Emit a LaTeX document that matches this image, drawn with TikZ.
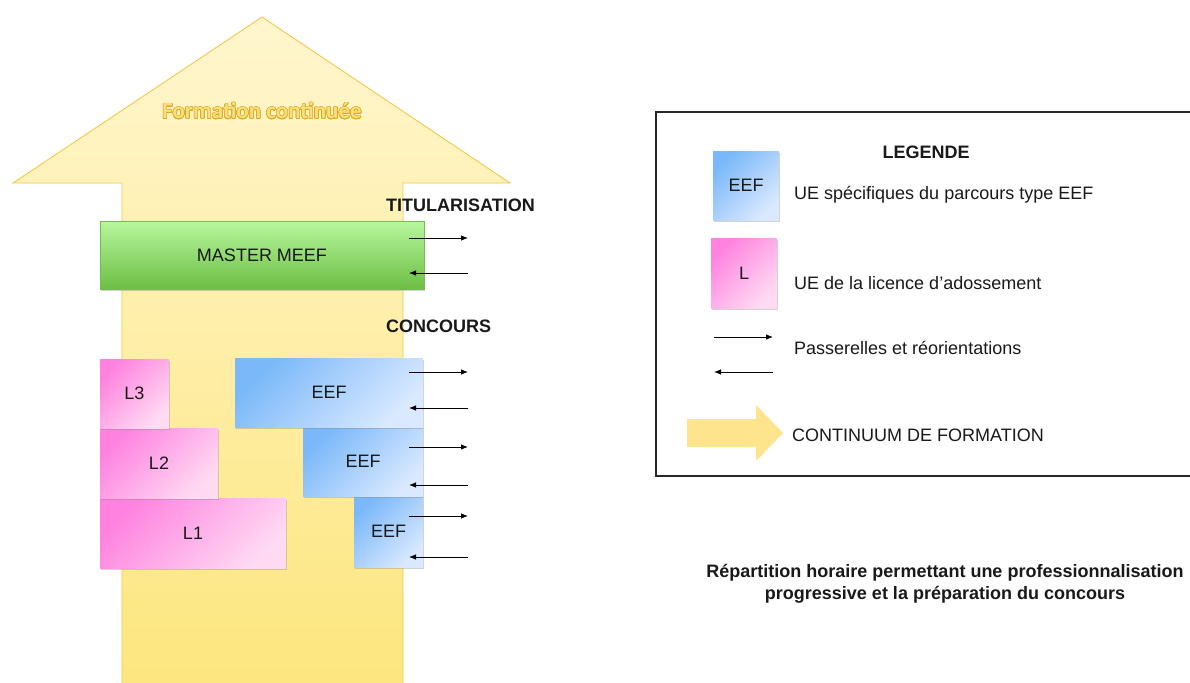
\documentclass[tikz,border=0pt]{standalone}
\usepackage{fontspec}
\setmainfont{Liberation Sans}
\newfontfamily\calfont{Carlito}
\usepackage[copies]{contour}
\usetikzlibrary{shadows,arrows.meta}
\definecolor{arrTop}{RGB}{255,246,206}
\definecolor{arrBot}{RGB}{253,230,126}
\definecolor{arrLine}{RGB}{244,200,72}
\definecolor{grnTop}{RGB}{184,247,158}
\definecolor{grnBot}{RGB}{108,190,68}
\definecolor{grnLine}{RGB}{120,186,88}
\definecolor{pinkD}{RGB}{255,130,224}
\definecolor{pinkL}{RGB}{255,218,243}
\definecolor{blueD}{RGB}{122,184,249}
\definecolor{blueL}{RGB}{218,233,255}
\definecolor{legArr}{RGB}{255,228,142}
\definecolor{goldTxt}{RGB}{250,222,120}
\definecolor{goldLine}{RGB}{220,168,40}
\contourlength{0.55pt}
\begin{document}
\begin{tikzpicture}[x=1pt,y=1pt,
  txt/.style={font=\fontsize{18}{22}\selectfont, inner sep=0pt, text=black!90},
  btxt/.style={font=\fontsize{18}{22}\selectfont\bfseries, inner sep=0pt, text=black!90},
  blk/.style={inner sep=0pt, font=\fontsize{18}{22}\selectfont, text=black!90,
    drop shadow={shadow xshift=1.2pt, shadow yshift=-1.8pt, opacity=0.35}},
  pinkbox/.style={blk, top color=pinkD, bottom color=pinkL, shading angle=45},
  bluebox/.style={blk, top color=blueD, bottom color=blueL, shading angle=45},
  masterbox/.style={blk, top color=grnTop, bottom color=grnBot, draw=grnLine, line width=0.6pt},
  pass/.style={line width=0.8pt, -{Latex[length=7pt,width=5.5pt]}},
]
\useasboundingbox (0,0) rectangle (1190,-682);
\fill[white] (0,0) rectangle (1190,-682);

% big arrow (continuum)
\draw[arrLine, line width=0.9pt, top color=arrTop, bottom color=arrBot]
  (122,-690) -- (122,-183) -- (13,-183) -- (262,-17) -- (510,-183)
  -- (403,-183) -- (403,-690) -- cycle;
\node[font=\fontsize{23}{26}\calfont\bfseries, inner sep=0pt] (fc) at (262,-111)
  {\contour{goldLine}{\textcolor{goldTxt}{Formation continuée}}};

% Master
\node[masterbox, minimum width=324, minimum height=68] (master) at (262,-255) {MASTER MEEF};
\node[btxt, anchor=west] (titu) at (386,-205) {TITULARISATION};
\node[btxt, anchor=west] (conc) at (386,-326) {CONCOURS};

% licence blocks
\node[pinkbox, minimum width=186, minimum height=70] (l1) at (193,-533) {L1};
\node[pinkbox, minimum width=118, minimum height=70] (l2) at (159,-463) {L2};
\node[pinkbox, minimum width=69, minimum height=69] (l3) at (134.5,-393.5) {L3};

% EEF blocks
\node[bluebox, minimum width=69, minimum height=71] (e3) at (388.5,-531.5) {EEF};
\node[bluebox, minimum width=120, minimum height=69] (e2) at (363,-461.5) {EEF};
\node[bluebox, minimum width=188, minimum height=69] (e1) at (329,-392.5) {EEF};

% passerelles
\foreach \n/\yr/\yl in {m/238/273, a/372/408, b/447/485, c/516/557}{
  \coordinate (\n rs) at (409,-\yr);
  \coordinate (\n re) at (468,-\yr);
  \coordinate (\n ls) at (468,-\yl);
  \coordinate (\n le) at (409,-\yl);
  \draw[pass] (\n rs) -- (\n re);
  \draw[pass] (\n ls) -- (\n le);
}

% legend
\draw[black!85, line width=1.4pt] (656,-112) rectangle (1200,-476);
\node[btxt] (leg) at (926,-152) {LEGENDE};
\node[bluebox, minimum width=66, minimum height=69] (legE) at (746,-185.5) {EEF};
\node[txt, anchor=west] (legEt) at (794,-195) {UE spécifiques du parcours type EEF};
\node[pinkbox, minimum width=66, minimum height=70] (legL) at (744,-273) {L};
\node[txt, anchor=west] (legLt) at (794,-283) {UE de la licence d’adossement};
\coordinate (lr1) at (714,-337);
\coordinate (lr2) at (773,-337);
\coordinate (ll1) at (773,-372);
\coordinate (ll2) at (714,-372);
\draw[pass] (lr1) -- (lr2);
\draw[pass] (ll1) -- (ll2);
\node[txt, anchor=west] (legPt) at (794,-348) {Passerelles et réorientations};
\fill[legArr] (687,-419) -- (756,-419) -- (756,-405) -- (783,-433) -- (756,-461)
  -- (756,-447) -- (687,-447) -- cycle;
\node[txt, anchor=west] (legCt) at (792,-435) {CONTINUUM DE FORMATION};

% caption
\node[btxt, align=center] (cap) at (945,-584)
  {Répartition horaire permettant une professionnalisation\\progressive et la préparation du concours};
\end{tikzpicture}
\end{document}
